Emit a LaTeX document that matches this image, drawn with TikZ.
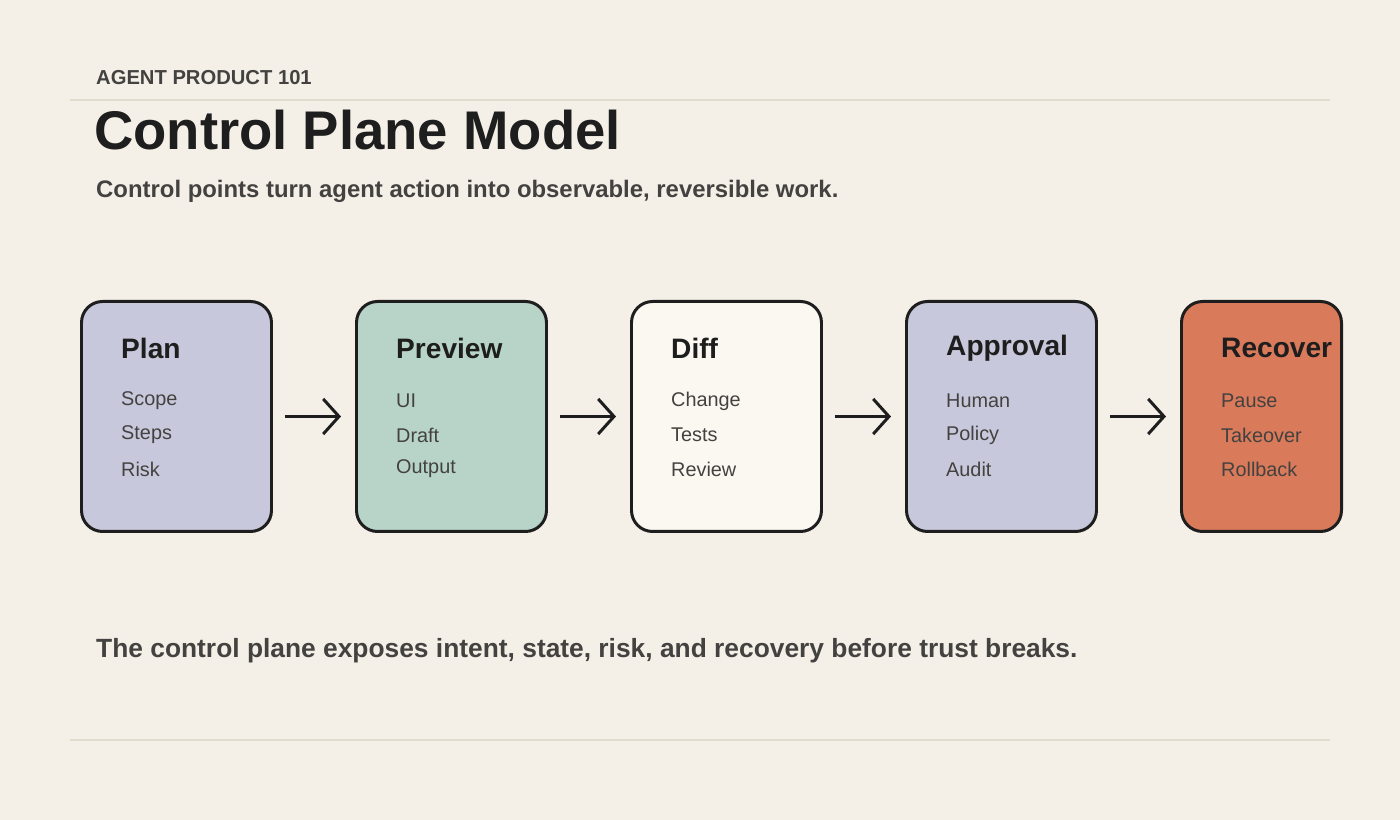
\documentclass[tikz,border=0pt]{standalone}
\usepackage{fontspec}
\setmainfont{Liberation Sans}
\usetikzlibrary{positioning,arrows.meta}
\definecolor{paper}{HTML}{F4F0E8}
\definecolor{rulec}{HTML}{E0DCCE}
\definecolor{ink}{HTML}{1E1E1E}
\definecolor{soft}{HTML}{444240}
\definecolor{lavender}{HTML}{C8C8DC}
\definecolor{sage}{HTML}{B8D4C8}
\definecolor{cream}{HTML}{FBF8F2}
\definecolor{coral}{HTML}{D97A5A}
\tikzset{
  stage/.style={draw=ink, line width=1.7pt, rounded corners=12pt, minimum height=230*0.02cm, anchor=north west},
  head/.style={anchor=west, font=\fontsize{16}{18}\selectfont\bfseries, text=ink},
  item/.style={anchor=west, font=\fontsize{11.3}{13}\selectfont, text=soft},
  flow/.style={draw=ink, line width=1.7pt, -{Straight Barb[length=9pt,width=20pt,line width=1.7pt]}, shorten <=12*0.02cm, shorten >=14*0.02cm}
}
\begin{document}
\begin{tikzpicture}[x=0.02cm,y=-0.02cm]
	% page
	\fill[paper] (0,0) rectangle (1400,820);
	\draw[rulec, line width=0.8pt] (70,100) -- (1330,100);
	\draw[rulec, line width=0.8pt] (70,740) -- (1330,740);

	% titles
	\node[anchor=west, text=soft, font=\fontsize{11.5}{13}\selectfont\bfseries] (kicker) at (90,78) {AGENT PRODUCT 101};
	\node[anchor=west, text=ink, font=\fontsize{31}{36}\selectfont\bfseries] (title) at (88,130) {Control Plane Model};
	\node[anchor=west, text=soft, font=\fontsize{13.6}{16}\selectfont\bfseries] (sub) at (90,191) {Control points turn agent action into observable, reversible work.};

	% stages
	\node[stage, fill=lavender, minimum width=190*0.02cm] (plan) at (80,300) {};
	\node[stage, fill=sage, minimum width=190*0.02cm] (preview) at (355,300) {};
	\node[stage, fill=cream, minimum width=190*0.02cm] (diff) at (630,300) {};
	\node[stage, fill=lavender, minimum width=190*0.02cm] (approval) at (905,300) {};
	\node[stage, fill=coral, minimum width=160*0.02cm] (recover) at (1180,300) {};

	\foreach \n/\x/\h/\a/\b/\c in {plan/115/Plan/Scope/Steps/Risk,
	  preview/390/Preview/UI/Draft/Output,
	  diff/665/Diff/Change/Tests/Review,
	  approval/940/Approval/Human/Policy/Audit,
	  recover/1215/Recover/Pause/Takeover/Rollback} {
		\node[head] (\n-h) at (\x,348) {\h};
		\node[item] (\n-1) at (\x,401) {\a};
		\node[item] (\n-2) at (\x,435) {\b};
		\node[item] (\n-3) at (\x,469) {\c};
	}

	% arrows
	\draw[flow] (plan) -- (preview);
	\draw[flow] (preview) -- (diff);
	\draw[flow] (diff) -- (approval);
	\draw[flow] (approval) -- (recover);

	% footer
	\node[anchor=west, text=soft, font=\fontsize{15}{18}\selectfont\bfseries] (note) at (90,651) {The control plane exposes intent, state, risk, and recovery before trust breaks.};
\end{tikzpicture}
\end{document}
